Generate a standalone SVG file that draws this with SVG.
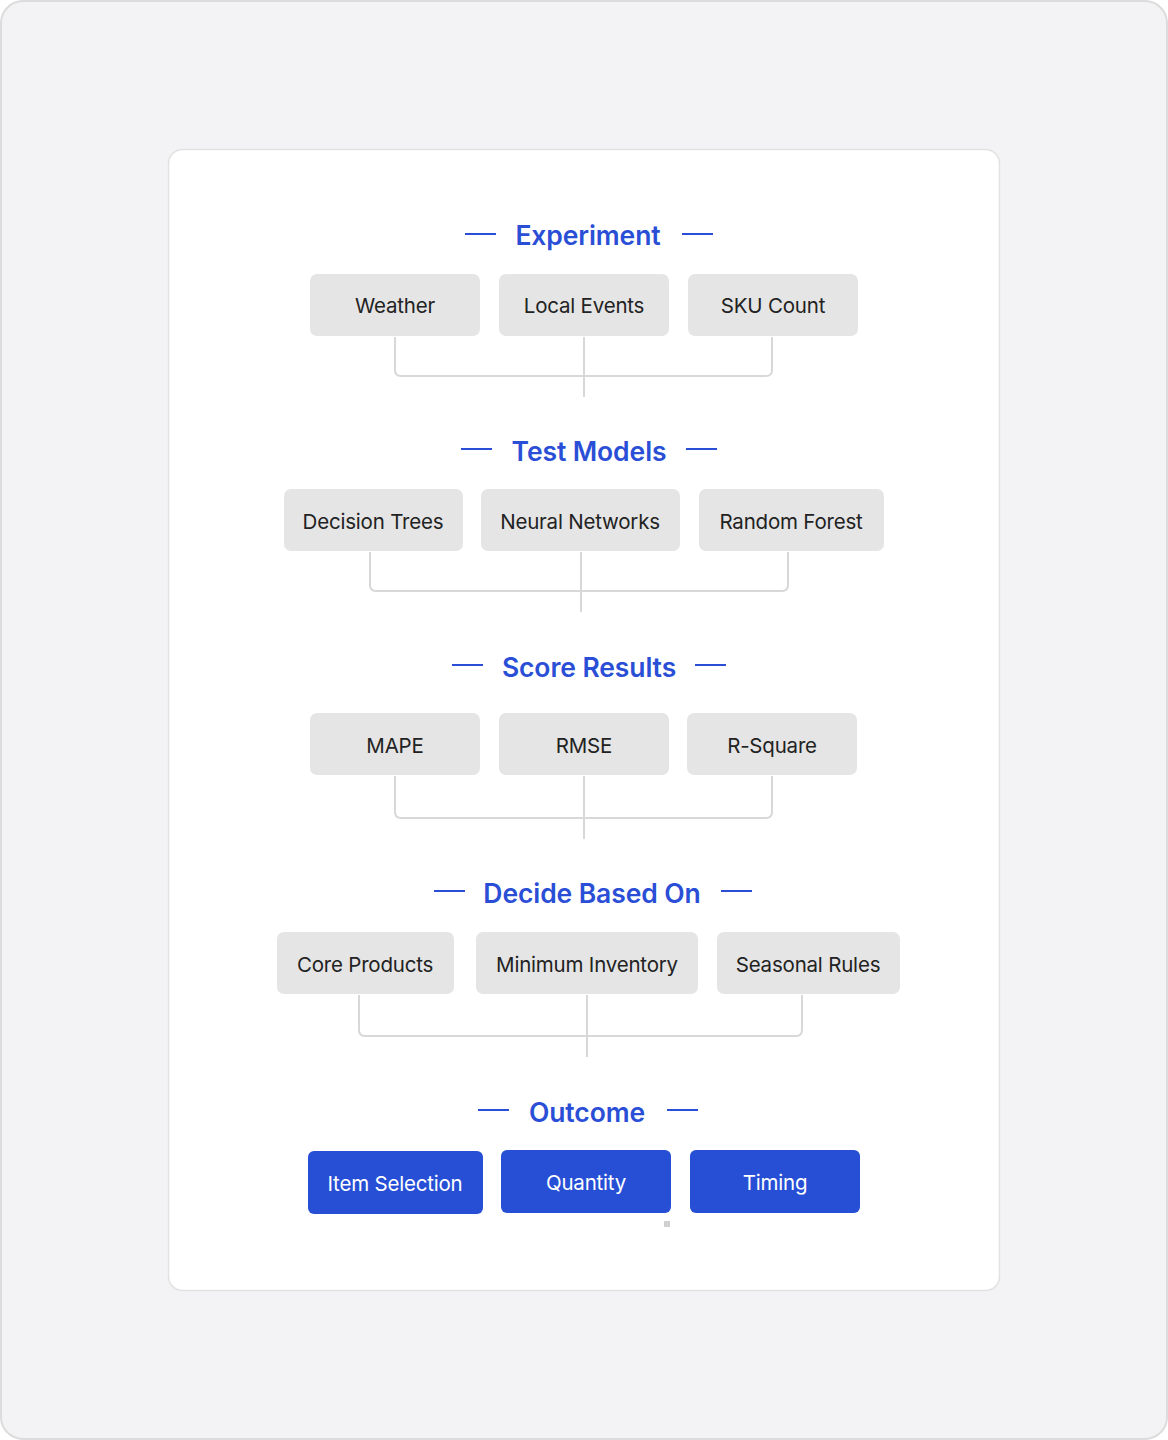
<svg xmlns="http://www.w3.org/2000/svg" width="1168" height="1440" viewBox="0 0 1168 1440">
<defs>
<style>
.title{font-family:Inter,"Liberation Sans",sans-serif;font-size:26.5px;font-weight:600;fill:#2a4fd6;text-anchor:middle;letter-spacing:-0.1px}
.dash{stroke:#2a4fd6;stroke-width:2}
.node rect{fill:#e5e5e5}
.node text{font-family:Inter,"Liberation Sans",sans-serif;font-size:20.5px;fill:#222;text-anchor:middle;letter-spacing:-0.2px}
.out rect{fill:#264fd6}
.out text{font-family:Inter,"Liberation Sans",sans-serif;font-size:20.5px;fill:#fff;text-anchor:middle;letter-spacing:-0.2px}
.conn path{fill:none;stroke:#d8d8d8;stroke-width:2}
</style>
</defs>
<rect x="1" y="1" width="1166" height="1438" rx="22" fill="#f3f3f5" stroke="#dcdcdc" stroke-width="2"/>
<rect x="168.5" y="149.5" width="831" height="1141" rx="14" fill="#fff" stroke="#e2e2e2" stroke-width="1.5"/>

<g id="titles">
<g id="t-experiment"><line class="dash" x1="465" y1="234" x2="496" y2="234"/><text class="title" x="588" y="245">Experiment</text><line class="dash" x1="682" y1="234" x2="713" y2="234"/></g>
<g id="t-testmodels"><line class="dash" x1="461" y1="449" x2="492" y2="449"/><text class="title" x="589" y="461">Test Models</text><line class="dash" x1="686" y1="449" x2="717" y2="449"/></g>
<g id="t-score"><line class="dash" x1="452" y1="665" x2="483" y2="665"/><text class="title" x="589" y="677">Score Results</text><line class="dash" x1="695" y1="665" x2="726" y2="665"/></g>
<g id="t-decide"><line class="dash" x1="434" y1="891" x2="465" y2="891"/><text class="title" x="592" y="903">Decide Based On</text><line class="dash" x1="721" y1="891" x2="752" y2="891"/></g>
<g id="t-outcome"><line class="dash" x1="478" y1="1110" x2="509" y2="1110"/><text class="title" x="587" y="1122">Outcome</text><line class="dash" x1="667" y1="1110" x2="698" y2="1110"/></g>
</g>

<g id="connectors" class="conn">
<path d="M395 337 V370 Q395 376 401 376 H766 Q772 376 772 370 V337"/>
<path d="M584 337 V397"/>
<path d="M370 552 V585 Q370 591 376 591 H782 Q788 591 788 585 V552"/>
<path d="M581 552 V612"/>
<path d="M395 776 V812 Q395 818 401 818 H766 Q772 818 772 812 V776"/>
<path d="M584 776 V839"/>
<path d="M359 995 V1030 Q359 1036 365 1036 H796 Q802 1036 802 1030 V995"/>
<path d="M587 995 V1057"/>
</g>

<g id="n-weather" class="node"><rect x="310" y="274" width="170" height="62" rx="7"/><text x="395" y="313">Weather</text></g>
<g id="n-localevents" class="node"><rect x="499" y="274" width="170" height="62" rx="7"/><text x="584" y="313">Local Events</text></g>
<g id="n-skucount" class="node"><rect x="688" y="274" width="170" height="62" rx="7"/><text x="773" y="313">SKU Count</text></g>

<g id="n-decisiontrees" class="node"><rect x="284" y="489" width="179" height="62" rx="7"/><text x="373" y="529">Decision Trees</text></g>
<g id="n-neuralnetworks" class="node"><rect x="481" y="489" width="199" height="62" rx="7"/><text x="580" y="529">Neural Networks</text></g>
<g id="n-randomforest" class="node"><rect x="699" y="489" width="185" height="62" rx="7"/><text x="791" y="529">Random Forest</text></g>

<g id="n-mape" class="node"><rect x="310" y="713" width="170" height="62" rx="7"/><text x="395" y="753">MAPE</text></g>
<g id="n-rmse" class="node"><rect x="499" y="713" width="170" height="62" rx="7"/><text x="584" y="753">RMSE</text></g>
<g id="n-rsquare" class="node"><rect x="687" y="713" width="170" height="62" rx="7"/><text x="772" y="753">R-Square</text></g>

<g id="n-coreproducts" class="node"><rect x="277" y="932" width="177" height="62" rx="7"/><text x="365" y="972">Core Products</text></g>
<g id="n-mininventory" class="node"><rect x="476" y="932" width="222" height="62" rx="7"/><text x="587" y="972">Minimum Inventory</text></g>
<g id="n-seasonalrules" class="node"><rect x="717" y="932" width="183" height="62" rx="7"/><text x="808" y="972">Seasonal Rules</text></g>

<g id="n-itemselection" class="out"><rect x="308" y="1151" width="175" height="63" rx="6"/><text x="395" y="1191">Item Selection</text></g>
<g id="n-quantity" class="out"><rect x="501" y="1150" width="170" height="63" rx="6"/><text x="586" y="1190">Quantity</text></g>
<g id="n-timing" class="out"><rect x="690" y="1150" width="170" height="63" rx="6"/><text x="775" y="1190">Timing</text></g>

<rect x="664" y="1221" width="6" height="6" fill="#d0d0d0"/>
</svg>
